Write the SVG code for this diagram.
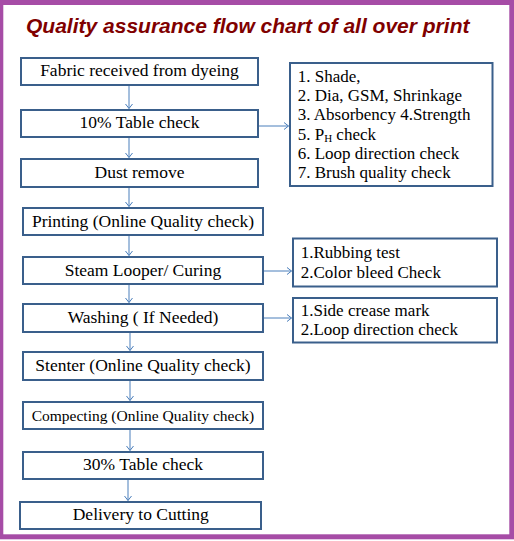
<svg xmlns="http://www.w3.org/2000/svg" width="514" height="541" viewBox="0 0 514 541">
<style>
.box{fill:#fff;stroke:#3A5F8B;stroke-width:2}
.t{font-family:"Liberation Serif","Times New Roman",serif;font-size:17.5px;fill:#000}
.c{text-anchor:middle}
.r{font-family:"Liberation Serif","Times New Roman",serif;font-size:17px;fill:#000}
.conn{stroke:#4A7EBB;stroke-width:1;fill:none;marker-end:url(#ah)}
</style>
<defs>
<marker id="ah" markerUnits="userSpaceOnUse" viewBox="-6 -5 8 10" markerWidth="8" markerHeight="10" refX="0" refY="0" orient="auto">
<path d="M-4.5,-3.5 L0,0 L-4.5,3.5" fill="none" stroke="#4A7EBB" stroke-width="1"/>
</marker>
</defs>
<rect x="0" y="0" width="514" height="541" fill="#fff"/>
<rect x="0.8" y="2.5" width="511" height="534.3" fill="none" stroke="#A64CA6" stroke-width="5"/>
<text x="26" y="33" font-family="'Liberation Sans',Arial,sans-serif" font-size="21" font-weight="bold" font-style="italic" fill="#800000">Quality assurance flow chart of all over print</text>

<g id="connectors">
<line class="conn" x1="129" y1="86" x2="129" y2="108.5"/>
<line class="conn" x1="129" y1="138" x2="129" y2="157.5"/>
<line class="conn" x1="129" y1="188" x2="129" y2="206.5"/>
<line class="conn" x1="129" y1="236" x2="129" y2="255.5"/>
<line class="conn" x1="129" y1="285" x2="129" y2="302.5"/>
<line class="conn" x1="130" y1="333" x2="130" y2="350.5"/>
<line class="conn" x1="130" y1="381" x2="130" y2="400.5"/>
<line class="conn" x1="130" y1="430" x2="130" y2="450.5"/>
<line class="conn" x1="128" y1="480" x2="128" y2="500.5"/>
<line class="conn" x1="259" y1="126" x2="288.5" y2="126"/>
<line class="conn" x1="264" y1="271" x2="291.5" y2="271"/>
<line class="conn" x1="264" y1="318" x2="291.5" y2="318"/>
</g>

<g id="n1"><rect class="box" x="21" y="58" width="237" height="27"/><text class="t c" x="139.5" y="76">Fabric received from dyeing</text></g>
<g id="n2"><rect class="box" x="21" y="110" width="237" height="27"/><text class="t c" x="139.5" y="127.5">10% Table check</text></g>
<g id="n3"><rect class="box" x="21" y="159" width="237" height="28"/><text class="t c" x="139.5" y="178.3">Dust remove</text></g>
<g id="n4"><rect class="box" x="23" y="208" width="240" height="27"/><text class="t c" x="143" y="226.7">Printing (Online Quality check)</text></g>
<g id="n5"><rect class="box" x="23" y="257" width="240" height="27"/><text class="t c" x="143" y="275.7">Steam Looper/ Curing</text></g>
<g id="n6"><rect class="box" x="23" y="304" width="240" height="28"/><text class="t c" x="143" y="323.3">Washing ( If Needed)</text></g>
<g id="n7"><rect class="box" x="23" y="352" width="240" height="28"/><text class="t c" x="143" y="371">Stenter (Online Quality check)</text></g>
<g id="n8"><rect class="box" x="23" y="402" width="240" height="27"/><text class="t c" x="143" y="421" style="font-size:15.5px">Compecting (Online Quality check)</text></g>
<g id="n9"><rect class="box" x="23" y="452" width="240" height="27"/><text class="t c" x="143" y="469.5">30% Table check</text></g>
<g id="n10"><rect class="box" x="20" y="502" width="241" height="27"/><text class="t c" x="140.8" y="520">Delivery to Cutting</text></g>

<g id="r1"><rect class="box" x="290" y="63" width="202.5" height="123"/>
<text class="r" x="297.7" y="81.7">1. Shade,</text>
<text class="r" x="297.7" y="100.7">2. Dia, GSM, Shrinkage</text>
<text class="r" x="297.7" y="120">3. Absorbency 4.Strength</text>
<text class="r" x="297.7" y="140">5. P<tspan font-size="11" dy="2">H</tspan><tspan dy="-2"> check</tspan></text>
<text class="r" x="297.7" y="159">6. Loop direction check</text>
<text class="r" x="297.7" y="178.3">7. Brush quality check</text>
</g>
<g id="r2"><rect class="box" x="293" y="238.5" width="204" height="48"/>
<text class="r" x="300.7" y="258.3">1.Rubbing test</text>
<text class="r" x="300.7" y="277.7">2.Color bleed Check</text>
</g>
<g id="r3"><rect class="box" x="293" y="298" width="204" height="44.5"/>
<text class="r" x="300.7" y="316">1.Side crease mark</text>
<text class="r" x="300.7" y="335">2.Loop direction check</text>
</g>
</svg>
